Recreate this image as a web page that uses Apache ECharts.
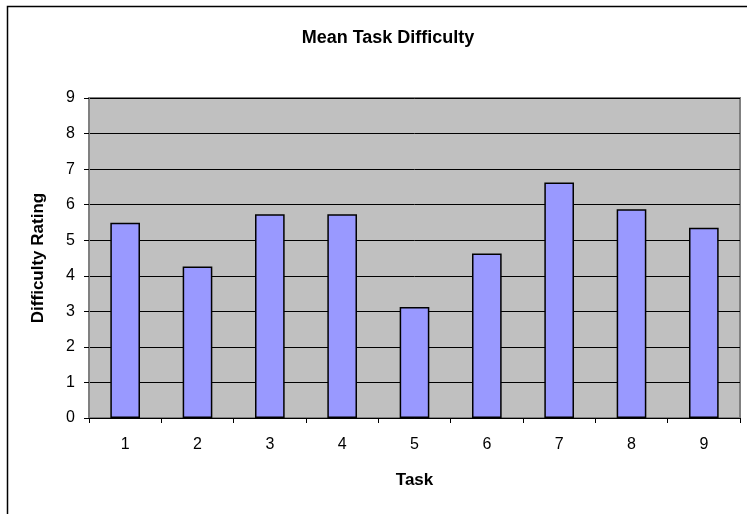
<!DOCTYPE html>
<html>
<head>
<meta charset="utf-8">
<script src="https://cdn.jsdelivr.net/npm/echarts@6/dist/echarts.min.js"></script>
<style>
  html, body { margin: 0; padding: 0; background: #fff; }
  #chart { width: 747px; height: 514px; }
</style>
</head>
<body>
<div id="chart"></div>
<script>
// data
const tasks = ['1', '2', '3', '4', '5', '6', '7', '8', '9']
const difficulty = [5.49, 4.26, 5.73, 5.73, 3.12, 4.63, 6.62, 5.87, 5.35]
const yTicks = [0, 1, 2, 3, 4, 5, 6, 7, 8, 9]

const chart = echarts.init(document.getElementById('chart'))

const font = 'Arial, "Liberation Sans", sans-serif'

const option = {
  backgroundColor: '#fff',
  animation: false,
  title: {
    text: 'Mean Task Difficulty',
    left: 383,
    top: 24,
    textAlign: 'center',
    textStyle: {
      fontFamily: font,
      fontSize: 18,
      fontWeight: 'bold',
      color: '#000'
    }
  },
  // outer chart border (runs off the right and bottom edges)
  graphic: [
    {
      type: 'rect',
      shape: { x: 7.5, y: 6.5, width: 800, height: 600 },
      style: { fill: 'none', stroke: '#000', lineWidth: 1.5 },
      silent: true
    }
  ],
  grid: {
    left: 89,
    top: 98,
    right: 7,
    bottom: 96,
    show: true,
    backgroundColor: '#c0c0c0',
    borderColor: '#808080',
    borderWidth: 2
  },
  xAxis: {
    type: 'category',
    data: tasks,
    boundaryGap: true,
    name: 'Task',
    nameLocation: 'middle',
    nameGap: 54,
    nameTextStyle: {
      fontFamily: font,
      fontSize: 17,
      fontWeight: 'bold',
      color: '#000'
    },
    axisLine: { show: true, lineStyle: { color: '#000', width: 1 } },
    axisTick: { show: true, length: 5, alignWithLabel: false, lineStyle: { color: '#000' } },
    axisLabel: {
      fontFamily: font,
      fontSize: 16,
      color: '#000',
      margin: 19,
      interval: 0
    },
    splitLine: { show: false }
  },
  yAxis: {
    type: 'value',
    min: yTicks[0],
    max: yTicks[yTicks.length - 1],
    interval: 1,
    name: 'Difficulty Rating',
    nameLocation: 'middle',
    nameGap: 42,
    nameTextStyle: {
      fontFamily: font,
      fontSize: 17,
      fontWeight: 'bold',
      color: '#000'
    },
    axisLine: { show: true, lineStyle: { color: '#808080', width: 1 } },
    axisTick: { show: true, length: 5, lineStyle: { color: '#000' } },
    axisLabel: {
      fontFamily: font,
      fontSize: 16,
      color: '#000',
      margin: 14
    },
    splitLine: { show: true, lineStyle: { color: '#000', width: 1 } }
  },
  series: [
    {
      name: 'Difficulty',
      type: 'bar',
      data: difficulty,
      barWidth: '41%',
      itemStyle: {
        color: '#9999ff',
        borderColor: '#000',
        borderWidth: 1.5
      }
    }
  ]
}

chart.setOption(option)
</script>
</body>
</html>
